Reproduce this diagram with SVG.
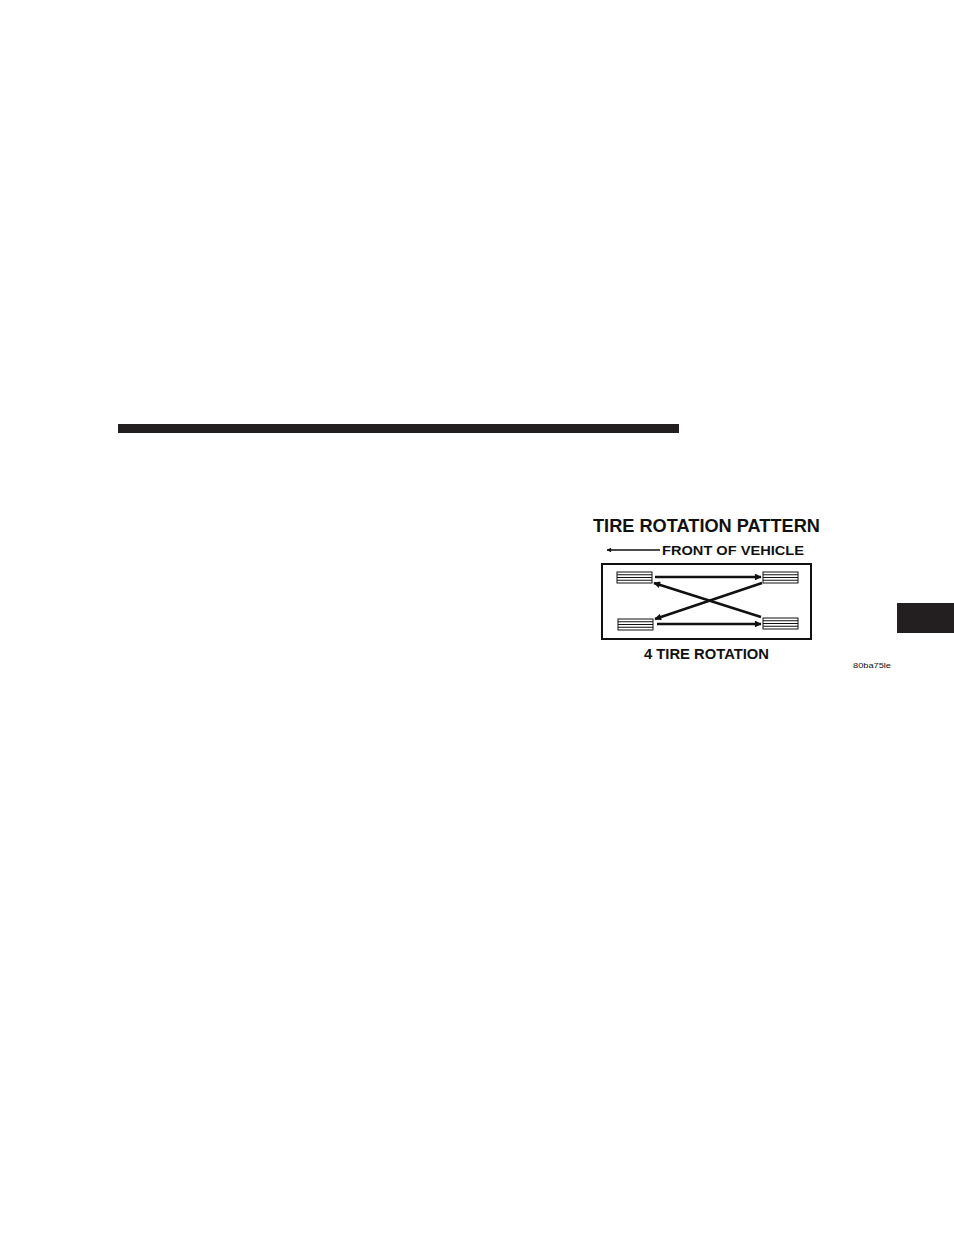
<svg xmlns="http://www.w3.org/2000/svg" width="954" height="1235" viewBox="0 0 954 1235">
<style>
.t{font-family:"Liberation Sans",Arial,sans-serif;font-weight:bold;fill:#111}
.tire rect{fill:#fff;stroke:#111;stroke-width:1}
.tire line{stroke:#111;stroke-width:1}
.c{stroke:#111;stroke-width:2.6;fill:none;marker-end:url(#ah)}
</style>
<defs>
<marker id="ah" viewBox="0 0 10 10" refX="9" refY="5" markerWidth="4" markerHeight="2.6" orient="auto" markerUnits="strokeWidth">
<path d="M0,0 L10,5 L0,10 z" fill="#111"/>
</marker>
<marker id="ah2" viewBox="0 0 10 10" refX="9" refY="5" markerWidth="6" markerHeight="3.5" orient="auto" markerUnits="strokeWidth">
<path d="M0,0 L10,5 L0,10 z" fill="#111"/>
</marker>
<g id="tireShape" class="tire">
<rect x="0" y="0" width="35" height="11"/>
<line x1="0" y1="2.75" x2="35" y2="2.75"/>
<line x1="0" y1="5.5" x2="35" y2="5.5"/>
<line x1="0" y1="8.25" x2="35" y2="8.25"/>
</g>
</defs>
<rect width="954" height="1235" fill="#fff"/>
<rect id="bar" x="118" y="424" width="561" height="9" fill="#231f20"/>
<rect id="tab" x="897" y="603" width="57" height="30" fill="#231f20"/>
<text id="title" class="t" x="593" y="532" font-size="19" textLength="227" lengthAdjust="spacingAndGlyphs">TIRE ROTATION PATTERN</text>
<g id="front">
<line x1="660" y1="550" x2="607" y2="550" stroke="#111" stroke-width="1.3" marker-end="url(#ah2)"/>
<text class="t" x="662" y="555" font-size="13.5" textLength="142" lengthAdjust="spacingAndGlyphs">FRONT OF VEHICLE</text>
</g>
<rect id="frame" x="602" y="564" width="209" height="75" fill="none" stroke="#111" stroke-width="2"/>
<use id="tireFL" href="#tireShape" x="617" y="572"/>
<use id="tireRL" href="#tireShape" x="763" y="572"/>
<use id="tireFR" href="#tireShape" x="618" y="619"/>
<use id="tireRR" href="#tireShape" x="763" y="618"/>
<g id="connectors">
<line class="c" x1="655" y1="577" x2="761" y2="577"/>
<line class="c" x1="657" y1="624" x2="761" y2="624"/>
<line class="c" x1="762" y1="583" x2="655" y2="619"/>
<line class="c" x1="761" y1="617" x2="654" y2="583"/>
</g>
<text id="caption" class="t" x="644" y="659" font-size="14" textLength="125" lengthAdjust="spacingAndGlyphs">4 TIRE ROTATION</text>
<text id="code" x="853" y="668" font-family="Liberation Sans,Arial,sans-serif" font-size="8" fill="#111" textLength="38" lengthAdjust="spacingAndGlyphs">80ba75le</text>
</svg>
